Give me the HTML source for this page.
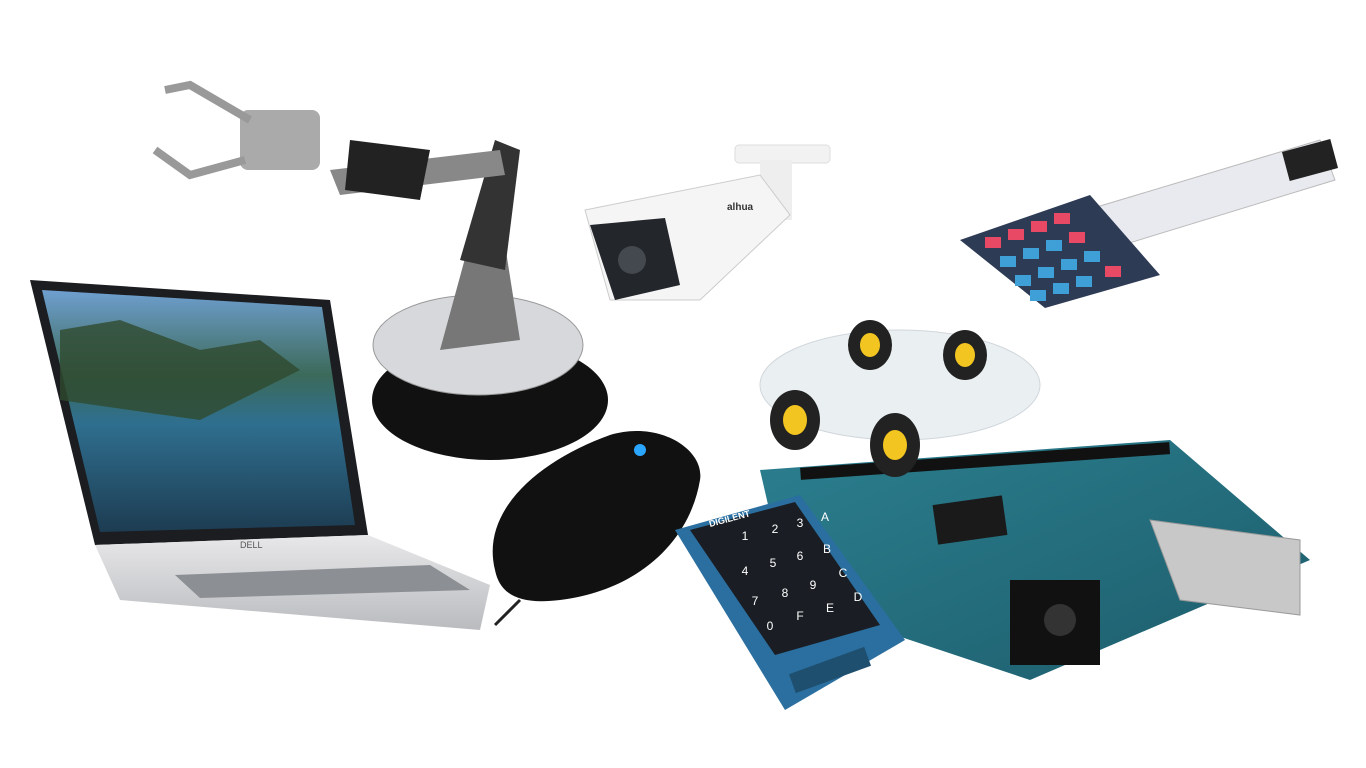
<!DOCTYPE html>
<html><head><meta charset="utf-8">
<style>
html,body{margin:0;padding:0;background:#fff;width:1366px;height:768px;overflow:hidden}
svg{display:block;font-family:"Liberation Sans",sans-serif}
</style></head>
<body>
<svg width="1366" height="768" viewBox="0 0 1366 768">
<defs>
<linearGradient id="scr" x1="0" y1="0" x2="0" y2="1">
<stop offset="0" stop-color="#6f9fd0"/><stop offset="0.35" stop-color="#3c6a5a"/><stop offset="0.55" stop-color="#2f6f8f"/><stop offset="1" stop-color="#1d3c52"/></linearGradient>
<linearGradient id="silver" x1="0" y1="0" x2="0" y2="1"><stop offset="0" stop-color="#e8e8ea"/><stop offset="1" stop-color="#b9bbbe"/></linearGradient>
<linearGradient id="teal" x1="0" y1="0" x2="1" y2="1"><stop offset="0" stop-color="#2b7f8f"/><stop offset="1" stop-color="#1d5c6b"/></linearGradient>
</defs>

<!-- Laptop -->
<g>
<polygon points="30,280 330,300 368,535 95,545" fill="#1b1d20"/>
<polygon points="42,290 322,307 355,525 100,532" fill="url(#scr)"/>
<polygon points="60,330 120,320 200,350 260,340 300,370 200,420 60,400" fill="#2f4a2e" opacity="0.8"/>
<polygon points="95,545 368,535 490,585 480,630 120,600" fill="url(#silver)"/>
<polygon points="175,575 430,565 470,590 200,598" fill="#8c8f94"/>
<text x="240" y="548" font-size="9" fill="#555">DELL</text>
</g>

<!-- Robot arm -->
<g>
<ellipse cx="490" cy="400" rx="118" ry="60" fill="#111"/>
<ellipse cx="478" cy="345" rx="105" ry="50" fill="#d6d8dc" stroke="#999"/>
<polygon points="440,350 470,240 505,245 520,340" fill="#777"/>
<polygon points="460,260 495,140 520,150 505,270" fill="#333"/>
<polygon points="330,170 500,150 505,175 340,195" fill="#888"/>
<polygon points="350,140 430,150 420,200 345,190" fill="#222"/>
<rect x="240" y="110" width="80" height="60" fill="#aaa" rx="8"/>
<polyline points="250,120 190,85 165,90" stroke="#999" stroke-width="8" fill="none"/>
<polyline points="245,160 190,175 155,150" stroke="#999" stroke-width="8" fill="none"/>
</g>

<!-- Security camera -->
<g>
<rect x="735" y="145" width="95" height="18" rx="4" fill="#f2f2f2" stroke="#ddd"/>
<rect x="760" y="160" width="32" height="60" fill="#eee"/>
<polygon points="585,210 760,175 790,215 700,300 610,300" fill="#f5f5f5" stroke="#ccc"/>
<polygon points="590,225 665,218 680,285 615,300" fill="#23262b"/>
<circle cx="632" cy="260" r="14" fill="#44484f"/>
<text x="727" y="210" font-size="10" fill="#333" font-weight="bold">alhua</text>
</g>

<!-- Membrane keypad -->
<g>
<polygon points="1070,215 1320,140 1335,180 1090,255" fill="#e8eaf0" stroke="#bbb"/>
<rect x="1285" y="145" width="50" height="30" fill="#222" transform="rotate(-15 1310 160)"/>
<polygon points="960,240 1090,195 1160,275 1045,308" fill="#2e3b55"/>
<g id="mkeys">
<rect x="985" y="237" width="16" height="11" fill="#e84a66"/><rect x="1008" y="229" width="16" height="11" fill="#e84a66"/><rect x="1031" y="221" width="16" height="11" fill="#e84a66"/><rect x="1054" y="213" width="16" height="11" fill="#e84a66"/>
<rect x="1000" y="256" width="16" height="11" fill="#3fa0d8"/><rect x="1023" y="248" width="16" height="11" fill="#3fa0d8"/><rect x="1046" y="240" width="16" height="11" fill="#3fa0d8"/><rect x="1069" y="232" width="16" height="11" fill="#e84a66"/>
<rect x="1015" y="275" width="16" height="11" fill="#3fa0d8"/><rect x="1038" y="267" width="16" height="11" fill="#3fa0d8"/><rect x="1061" y="259" width="16" height="11" fill="#3fa0d8"/><rect x="1084" y="251" width="16" height="11" fill="#3fa0d8"/>
<rect x="1030" y="290" width="16" height="11" fill="#3fa0d8"/><rect x="1053" y="283" width="16" height="11" fill="#3fa0d8"/><rect x="1076" y="276" width="16" height="11" fill="#3fa0d8"/><rect x="1105" y="266" width="16" height="11" fill="#e84a66"/>
</g>
</g>

<!-- Arduino board -->
<g>
<polygon points="760,470 1170,440 1310,560 1030,680 790,600" fill="url(#teal)"/>
<rect x="935" y="500" width="70" height="40" fill="#1a1a1a" transform="rotate(-8 970 520)"/>
<polygon points="1150,520 1300,540 1300,615 1180,600" fill="#c8c8c8" stroke="#999"/>
<rect x="1010" y="580" width="90" height="85" fill="#111"/>
<circle cx="1060" cy="620" r="16" fill="#333"/>
<rect x="800" y="455" width="370" height="12" fill="#111" transform="rotate(-4 985 460)"/>
</g>

<!-- Robot car -->
<g>
<ellipse cx="900" cy="385" rx="140" ry="55" fill="#e6ecef" opacity="0.8" stroke="#c5cdd3"/>
<ellipse cx="795" cy="420" rx="25" ry="30" fill="#222"/><ellipse cx="795" cy="420" rx="12" ry="15" fill="#f3c520"/>
<ellipse cx="895" cy="445" rx="25" ry="32" fill="#222"/><ellipse cx="895" cy="445" rx="12" ry="15" fill="#f3c520"/>
<ellipse cx="870" cy="345" rx="22" ry="25" fill="#222"/><ellipse cx="870" cy="345" rx="10" ry="12" fill="#f3c520"/>
<ellipse cx="965" cy="355" rx="22" ry="25" fill="#222"/><ellipse cx="965" cy="355" rx="10" ry="12" fill="#f3c520"/>
</g>

<!-- Mouse -->
<g>
<path d="M495,570 C480,510 540,460 610,435 C660,420 705,450 700,480 C690,540 640,590 560,600 C520,605 500,595 495,570 Z" fill="#111"/>
<circle cx="640" cy="450" r="6" fill="#2aa6ff"/>
<path d="M520,600 Q505,615 495,625" stroke="#222" stroke-width="3" fill="none"/>
</g>

<!-- Keypad module -->
<g>
<polygon points="675,530 800,495 905,640 785,710" fill="#2a6fa0"/>
<polygon points="690,530 795,502 880,625 775,655" fill="#1a1e24"/>
<text x="710" y="527" font-size="9" fill="#fff" font-weight="bold" transform="rotate(-15 710 527)">DIGILENT</text>
<g font-size="12" fill="#fff" text-anchor="middle">
<text x="745" y="540">1</text><text x="775" y="533">2</text><text x="800" y="527">3</text><text x="825" y="521">A</text>
<text x="745" y="575">4</text><text x="773" y="567">5</text><text x="800" y="560">6</text><text x="827" y="553">B</text>
<text x="755" y="605">7</text><text x="785" y="597">8</text><text x="813" y="589">9</text><text x="843" y="577">C</text>
<text x="770" y="630">0</text><text x="800" y="620">F</text><text x="830" y="612">E</text><text x="858" y="601">D</text>
</g>
<rect x="790" y="660" width="80" height="20" fill="#1f4f6f" transform="rotate(-20 830 670)"/>
</g>
</svg>
</body></html>
